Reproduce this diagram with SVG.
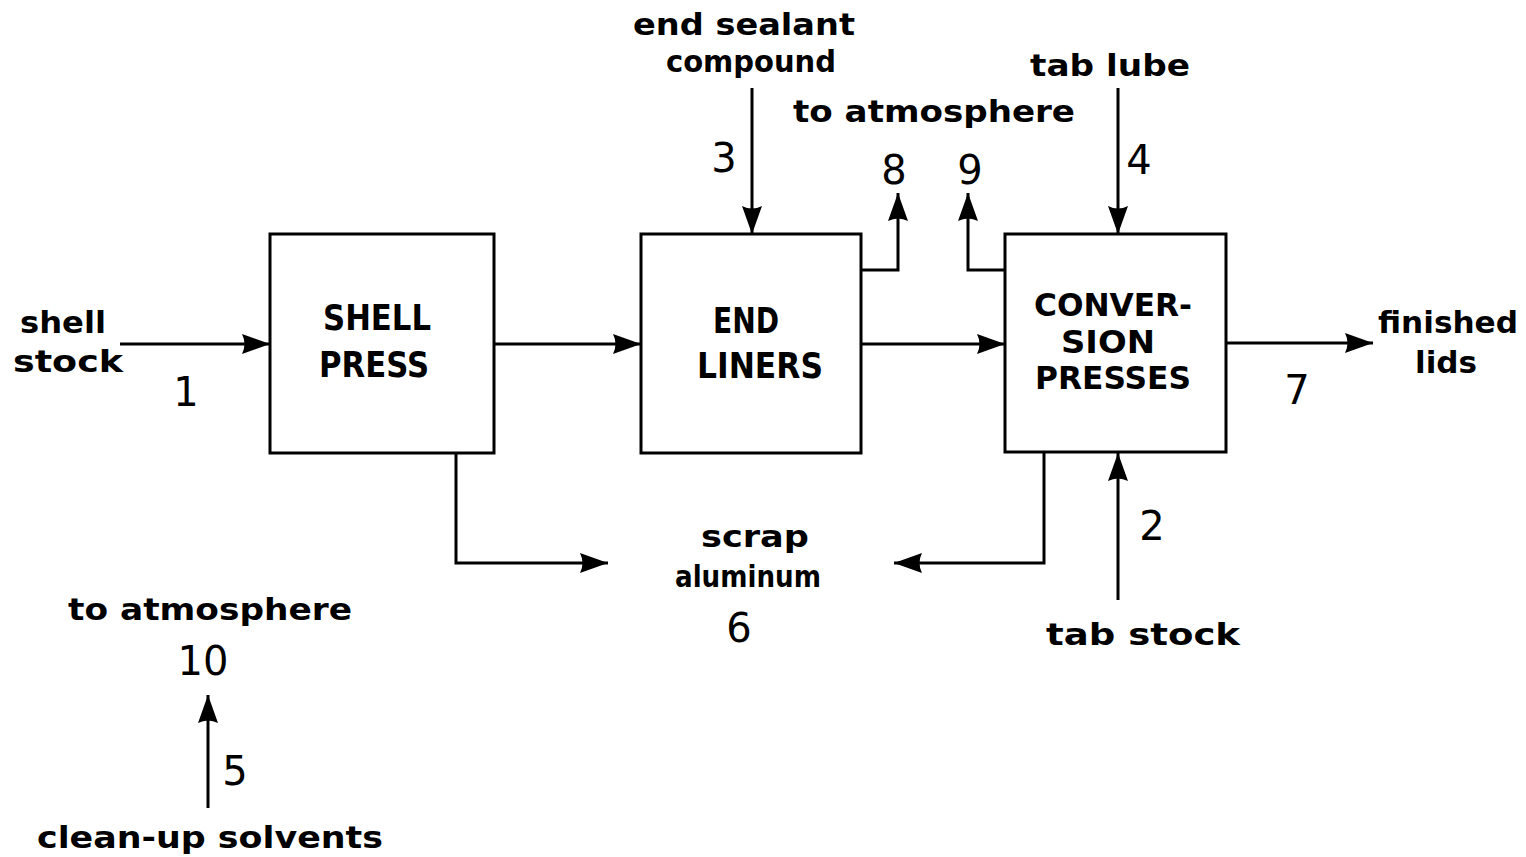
<svg xmlns="http://www.w3.org/2000/svg" width="1526" height="857" viewBox="0 0 1526 857">
<style>
.box{fill:none;stroke:#000;stroke-width:3}
.ln{fill:none;stroke:#000;stroke-width:3}
.t{font-family:"DejaVu Sans",sans-serif;font-weight:bold;font-size:31px;fill:#000}
.c{font-family:"DejaVu Sans",sans-serif;font-weight:bold;font-size:35px;fill:#000}
.cs{font-family:"DejaVu Sans",sans-serif;font-weight:bold;font-size:32px;fill:#000}
.n{font-family:"DejaVu Sans",sans-serif;font-size:40px;fill:#000}
</style>
<defs>
<marker id="ah" viewBox="0 0 28 22" refX="28" refY="11" markerWidth="28" markerHeight="22" markerUnits="userSpaceOnUse" orient="auto">
<path d="M0,1 L28,11 L0,21 Q5,11 0,1 Z" fill="#000"/>
</marker>
</defs>
<rect width="1526" height="857" fill="#fff"/>
<g id="connectors">
<path class="ln" d="M120,344 H270" marker-end="url(#ah)"/>
<path class="ln" d="M494,344 H641" marker-end="url(#ah)"/>
<path class="ln" d="M861,344 H1005" marker-end="url(#ah)"/>
<path class="ln" d="M1226,343 H1373" marker-end="url(#ah)"/>
<path class="ln" d="M752,88 V234" marker-end="url(#ah)"/>
<path class="ln" d="M861,270 H898 V193" marker-end="url(#ah)"/>
<path class="ln" d="M1005,270 H968 V193" marker-end="url(#ah)"/>
<path class="ln" d="M1118,88 V234" marker-end="url(#ah)"/>
<path class="ln" d="M1118,600 V453" marker-end="url(#ah)"/>
<path class="ln" d="M456,453 V563 H608" marker-end="url(#ah)"/>
<path class="ln" d="M1044,453 V563 H894" marker-end="url(#ah)"/>
<path class="ln" d="M208,808 V695" marker-end="url(#ah)"/>
</g>
<g id="shell-press">
<rect class="box" x="270" y="234" width="224" height="219"/>
<text class="c" x="377" y="330" text-anchor="middle" textLength="108" lengthAdjust="spacingAndGlyphs">SHELL</text>
<text class="c" x="374" y="377" text-anchor="middle" textLength="110" lengthAdjust="spacingAndGlyphs">PRESS</text>
</g>
<g id="end-liners">
<rect class="box" x="641" y="234" width="220" height="219"/>
<text class="c" x="746" y="333" text-anchor="middle" textLength="66" lengthAdjust="spacingAndGlyphs">END</text>
<text class="c" x="760" y="378" text-anchor="middle" textLength="126" lengthAdjust="spacingAndGlyphs">LINERS</text>
</g>
<g id="conversion-presses">
<rect class="box" x="1005" y="234" width="221" height="218"/>
<text class="cs" x="1113" y="316" text-anchor="middle" textLength="158" lengthAdjust="spacingAndGlyphs">CONVER-</text>
<text class="cs" x="1108" y="353" text-anchor="middle" textLength="94" lengthAdjust="spacingAndGlyphs">SION</text>
<text class="cs" x="1113" y="389" text-anchor="middle" textLength="156" lengthAdjust="spacingAndGlyphs">PRESSES</text>
</g>
<g id="labels">
<text class="t" x="744" y="35" text-anchor="middle" textLength="222" lengthAdjust="spacingAndGlyphs">end sealant</text>
<text class="t" x="751" y="72" text-anchor="middle" textLength="170" lengthAdjust="spacingAndGlyphs">compound</text>
<text class="t" x="934" y="122" text-anchor="middle" textLength="282" lengthAdjust="spacingAndGlyphs">to atmosphere</text>
<text class="t" x="1110" y="76" text-anchor="middle" textLength="160" lengthAdjust="spacingAndGlyphs">tab lube</text>
<text class="n" x="724" y="172" text-anchor="middle">3</text>
<text class="n" x="894" y="184" text-anchor="middle">8</text>
<text class="n" x="970" y="184" text-anchor="middle">9</text>
<text class="n" x="1139" y="174" text-anchor="middle">4</text>
<text class="t" x="63" y="333" text-anchor="middle" textLength="86" lengthAdjust="spacingAndGlyphs">shell</text>
<text class="t" x="68" y="372" text-anchor="middle" textLength="110" lengthAdjust="spacingAndGlyphs">stock</text>
<text class="n" x="186" y="406" text-anchor="middle">1</text>
<text class="t" x="1448" y="333" text-anchor="middle" textLength="140" lengthAdjust="spacingAndGlyphs">finished</text>
<text class="t" x="1446" y="373" text-anchor="middle" textLength="62" lengthAdjust="spacingAndGlyphs">lids</text>
<text class="n" x="1297" y="404" text-anchor="middle">7</text>
<text class="n" x="1152" y="540" text-anchor="middle">2</text>
<text class="t" x="755" y="547" text-anchor="middle" textLength="108" lengthAdjust="spacingAndGlyphs">scrap</text>
<text class="t" x="748" y="587" text-anchor="middle" textLength="146" lengthAdjust="spacingAndGlyphs">aluminum</text>
<text class="n" x="739" y="642" text-anchor="middle">6</text>
<text class="t" x="1143" y="645" text-anchor="middle" textLength="194" lengthAdjust="spacingAndGlyphs">tab stock</text>
<text class="t" x="210" y="620" text-anchor="middle" textLength="284" lengthAdjust="spacingAndGlyphs">to atmosphere</text>
<text class="n" x="203" y="675" text-anchor="middle">10</text>
<text class="n" x="235" y="785" text-anchor="middle">5</text>
<text class="t" x="210" y="848" text-anchor="middle" textLength="346" lengthAdjust="spacingAndGlyphs">clean-up solvents</text>
</g>
</svg>
